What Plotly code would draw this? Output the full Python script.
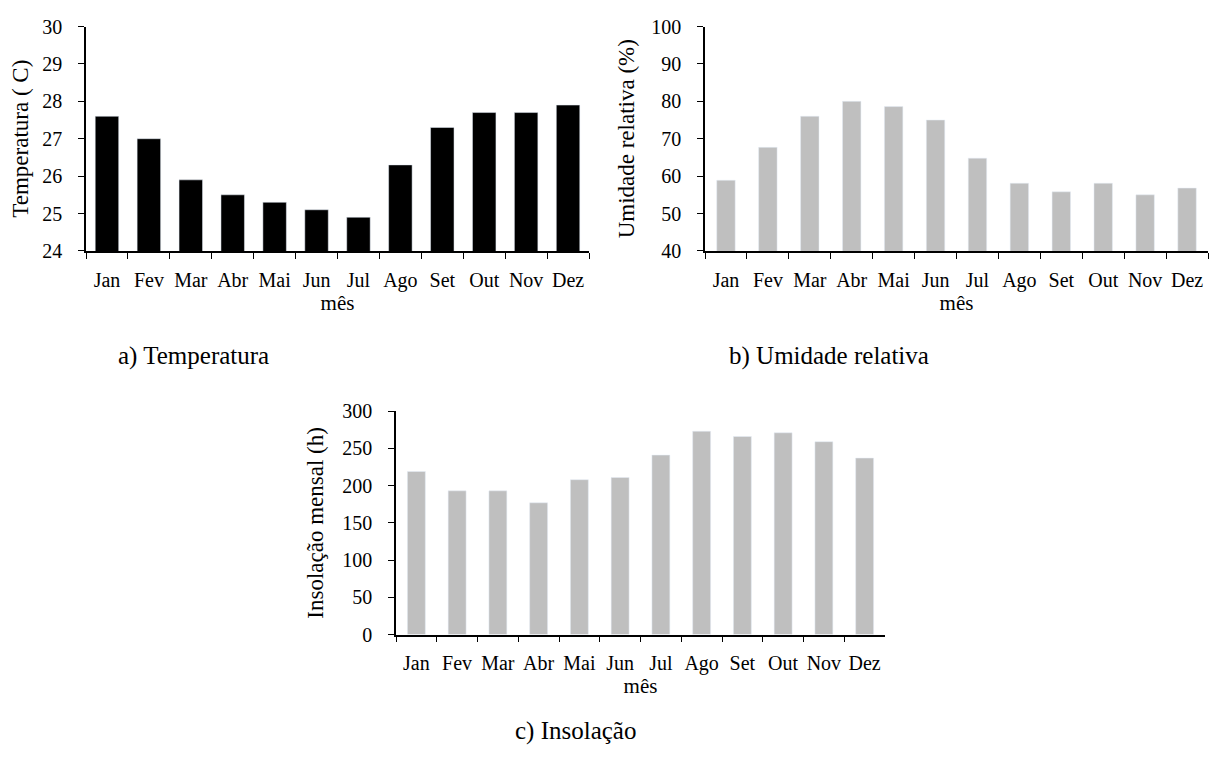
import plotly.graph_objects as go

meses = ["Jan", "Fev", "Mar", "Abr", "Mai", "Jun", "Jul", "Ago", "Set", "Out", "Nov", "Dez"]
temperatura = [27.6, 27.0, 25.9, 25.5, 25.3, 25.1, 24.9, 26.3, 27.3, 27.7, 27.7, 27.9]
umidade = [58.9, 67.7, 76.0, 80.0, 78.6, 75.0, 64.8, 58.1, 55.8, 58.1, 55.0, 56.8]
insolacao = [219, 193, 193, 177, 208, 211, 241, 273, 266, 271, 259, 237]

W, H = 1218, 767
FONT = "Liberation Serif"


def px_x(a, b):
    return [a / W, b / W]


def px_y(top, bottom):
    return [1 - bottom / H, 1 - top / H]


fig = go.Figure()
fig.add_trace(go.Bar(x=meses, y=temperatura, marker_color="black", width=0.56,
                     xaxis="x", yaxis="y", showlegend=False))
fig.add_trace(go.Bar(x=meses, y=umidade, marker_color="#bfbfbf", width=0.44,
                     xaxis="x2", yaxis="y2", showlegend=False))
fig.add_trace(go.Bar(x=meses, y=insolacao, marker_color="#bfbfbf", width=0.44,
                     xaxis="x3", yaxis="y3", showlegend=False))

xcommon = dict(
    type="category", showline=True, linecolor="black", linewidth=1.5,
    ticks="outside", tickson="boundaries", ticklen=6, tickwidth=1.2, tickcolor="black",
    showgrid=False, zeroline=False, tickangle=0,
    tickfont=dict(size=20, color="black", family=FONT),
    ticklabelstandoff=10, fixedrange=True,
    title=dict(text="mês", font=dict(size=21, color="black", family=FONT), standoff=0),
)
ycommon = dict(
    showline=True, linecolor="black", linewidth=1.5, ticks="outside", ticklen=6,
    tickwidth=1.2, tickcolor="black", showgrid=False, zeroline=False,
    tickfont=dict(size=20, color="black", family=FONT), ticklabelstandoff=12, fixedrange=True,
)
ytitle_font = dict(size=23, color="black", family=FONT)

fig.update_layout(
    width=W, height=H, margin=dict(l=0, r=0, t=0, b=0),
    paper_bgcolor="white", plot_bgcolor="white",
    font=dict(family=FONT, color="black"),
    xaxis=dict(xcommon, domain=px_x(86, 589), anchor="y"),
    yaxis=dict(ycommon, domain=px_y(16, 247), anchor="x", range=[24, 30], dtick=1,
               title=dict(text="Temperatura ( C)", font=ytitle_font, standoff=7)),
    xaxis2=dict(xcommon, domain=px_x(705, 1208), anchor="y2"),
    yaxis2=dict(ycommon, domain=px_y(16, 247), anchor="x2", range=[40, 100], dtick=10,
                title=dict(text="Umidade relativa (%)", font=ytitle_font, standoff=10)),
    xaxis3=dict(xcommon, domain=px_x(396, 885), anchor="y3"),
    yaxis3=dict(ycommon, domain=px_y(412, 642), anchor="x3", range=[0, 300], dtick=50,
                title=dict(text="Insolação mensal (h)", font=ytitle_font, standoff=12)),
)

legendas = [("a) Temperatura", 193, 355), ("b) Umidade relativa", 829, 355), ("c) Insolação", 575, 741)]
for texto, cx, cy in legendas:
    fig.add_annotation(text=texto, x=cx / W, y=1 - cy / H, xref="paper", yref="paper",
                       showarrow=False, xanchor="center", yanchor="middle",
                       font=dict(size=25, color="black", family=FONT))

fig.write_html("out.html")
